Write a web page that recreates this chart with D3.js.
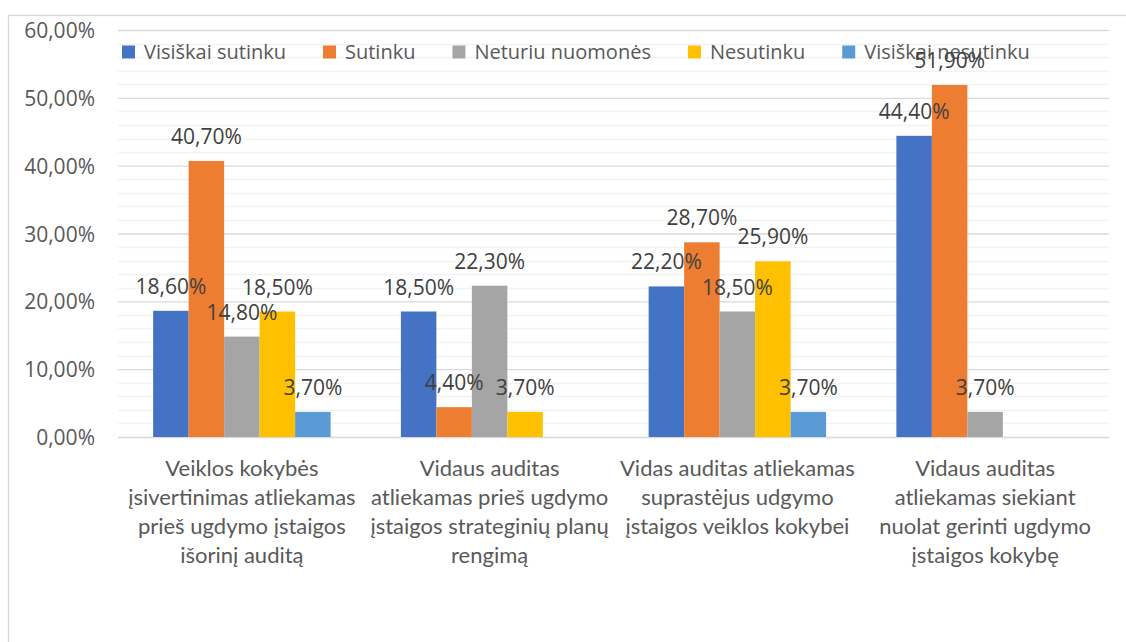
<!DOCTYPE html>
<html lang="lt">
<head>
<meta charset="utf-8">
<title>Vidaus auditas</title>
<script src="https://d3js.org/d3.v7.min.js"></script>
<style>
  body { margin: 0; background: #fff; }
  svg { display: block; }
</style>
</head>
<body>
<script>
// data
const categoryLines = [
  ['Veiklos kokybės', 'įsivertinimas atliekamas', 'prieš ugdymo įstaigos', 'išorinį auditą'],
  ['Vidaus auditas', 'atliekamas prieš ugdymo', 'įstaigos strateginių planų', 'rengimą'],
  ['Vidas auditas atliekamas', 'suprastėjus udgymo', 'įstaigos veiklos kokybei'],
  ['Vidaus auditas', 'atliekamas siekiant', 'nuolat gerinti ugdymo', 'įstaigos kokybę']
];
const categories = categoryLines.map(l => l.join(' '));
const seriesNames = ['Visiškai sutinku', 'Sutinku', 'Neturiu nuomonės', 'Nesutinku', 'Visiškai nesutinku'];
const visiskaiSutinku = [0.186, 0.185, 0.222, 0.444];
const sutinku = [0.407, 0.044, 0.287, 0.519];
const neturiuNuomones = [0.148, 0.223, 0.185, 0.037];
const nesutinku = [0.185, 0.037, 0.259, null];
const visiskaiNesutinku = [0.037, null, 0.037, null];
const seriesValues = [visiskaiSutinku, sutinku, neturiuNuomones, nesutinku, visiskaiNesutinku];
const yTicks = [0, 0.1, 0.2, 0.3, 0.4, 0.5, 0.6];

const colors = ['#4472C4', '#ED7D31', '#A5A5A5', '#FFC000', '#5B9BD5'];

const w = 1126;
const h = 642;
const plotLeft = 118, plotRight = 1109, plotTop = 30, plotBottom = 437;

const locale = d3.formatLocale({ decimal: ',', thousands: ' ', grouping: [3], currency: ['', ' €'] });
const pct = locale.format('.2%');

const svg = d3.select('body').append('svg')
  .attr('width', w)
  .attr('height', h);

// chart border (cut by the window on right and bottom)
svg.append('rect')
  .attr('x', 8.5).attr('y', 15.5)
  .attr('width', 1200).attr('height', 800)
  .attr('fill', 'none')
  .attr('stroke', '#d9d9d9')
  .attr('stroke-width', 1.3);

const x0 = d3.scaleBand().domain(categories).range([plotLeft, plotRight]).padding(0);
const x1 = d3.scaleBand().domain(seriesNames).range([0, x0.bandwidth()]).paddingInner(0).paddingOuter(0.99);
const y = d3.scaleLinear().domain([0, 0.6]).range([plotBottom, plotTop]);

// minor grid every 2%
svg.append('g')
  .selectAll('line')
  .data(d3.range(0.02, 0.6, 0.02).filter(v => Math.round(v * 100) % 10 !== 0))
  .enter().append('line')
  .attr('x1', plotLeft).attr('x2', plotRight)
  .attr('y1', d => Math.round(y(d)) + 0.5).attr('y2', d => Math.round(y(d)) + 0.5)
  .attr('stroke', '#f2f2f2').attr('stroke-width', 1.3);

// major grid + y axis
const yAxis = d3.axisLeft(y).tickValues(yTicks).tickFormat(pct).tickSize(plotLeft - plotRight).tickPadding(23);
const gy = svg.append('g')
  .attr('transform', 'translate(' + plotLeft + ',0)')
  .call(yAxis);
gy.select('.domain').remove();
gy.selectAll('.tick line').attr('stroke', '#d9d9d9').attr('stroke-width', 1.3);
gy.selectAll('.tick text')
  .attr('fill', '#595959')
  .attr('font-family', '"Open Sans", sans-serif')
  .attr('font-size', 21)
  .attr('dy', '0.36em');

// flatten values to one record per bar
const cells = [];
categories.forEach((c, ci) => {
  seriesNames.forEach((s, si) => {
    const v = seriesValues[si][ci];
    if (v !== null) cells.push({ c, s, si, v });
  });
});

// bars
svg.append('g')
  .selectAll('rect')
  .data(cells)
  .enter().append('rect')
  .attr('x', d => x0(d.c) + x1(d.s))
  .attr('y', d => y(d.v))
  .attr('width', x1.bandwidth())
  .attr('height', d => y(0) - y(d.v))
  .attr('fill', d => colors[d.si]);

// legend
const legend = svg.append('g').attr('transform', 'translate(122,52)');
let lx = 0;
seriesNames.forEach((s, i) => {
  const item = legend.append('g').attr('transform', 'translate(' + lx + ',0)');
  item.append('rect')
    .attr('x', 0).attr('y', -6.5)
    .attr('width', 13).attr('height', 13)
    .attr('fill', colors[i]);
  const t = item.append('text')
    .attr('x', 22).attr('y', 7)
    .attr('fill', '#595959')
    .attr('font-family', '"Open Sans", sans-serif')
    .attr('font-size', 20)
    .text(s);
  lx += 22 + t.node().getComputedTextLength() + 37;
});

// data labels, above every bar
svg.append('g')
  .selectAll('text')
  .data(cells)
  .enter().append('text')
  .attr('x', d => x0(d.c) + x1(d.s) + x1.bandwidth() / 2)
  .attr('y', d => y(d.v) - 17)
  .attr('text-anchor', 'middle')
  .attr('fill', '#404040')
  .attr('font-family', '"Open Sans", sans-serif')
  .attr('font-size', 21)
  .text(d => pct(d.v));

// category labels
const xAxis = svg.append('g');
categoryLines.forEach((lines, i) => {
  const t = xAxis.append('text')
    .attr('text-anchor', 'middle')
    .attr('fill', '#595959')
    .attr('font-family', 'Lato, sans-serif')
    .attr('font-size', 22);
  lines.forEach((line, j) => {
    t.append('tspan')
      .attr('x', x0(categories[i]) + x0.bandwidth() / 2)
      .attr('y', 476 + j * 29)
      .text(line);
  });
});
</script>
</body>
</html>
